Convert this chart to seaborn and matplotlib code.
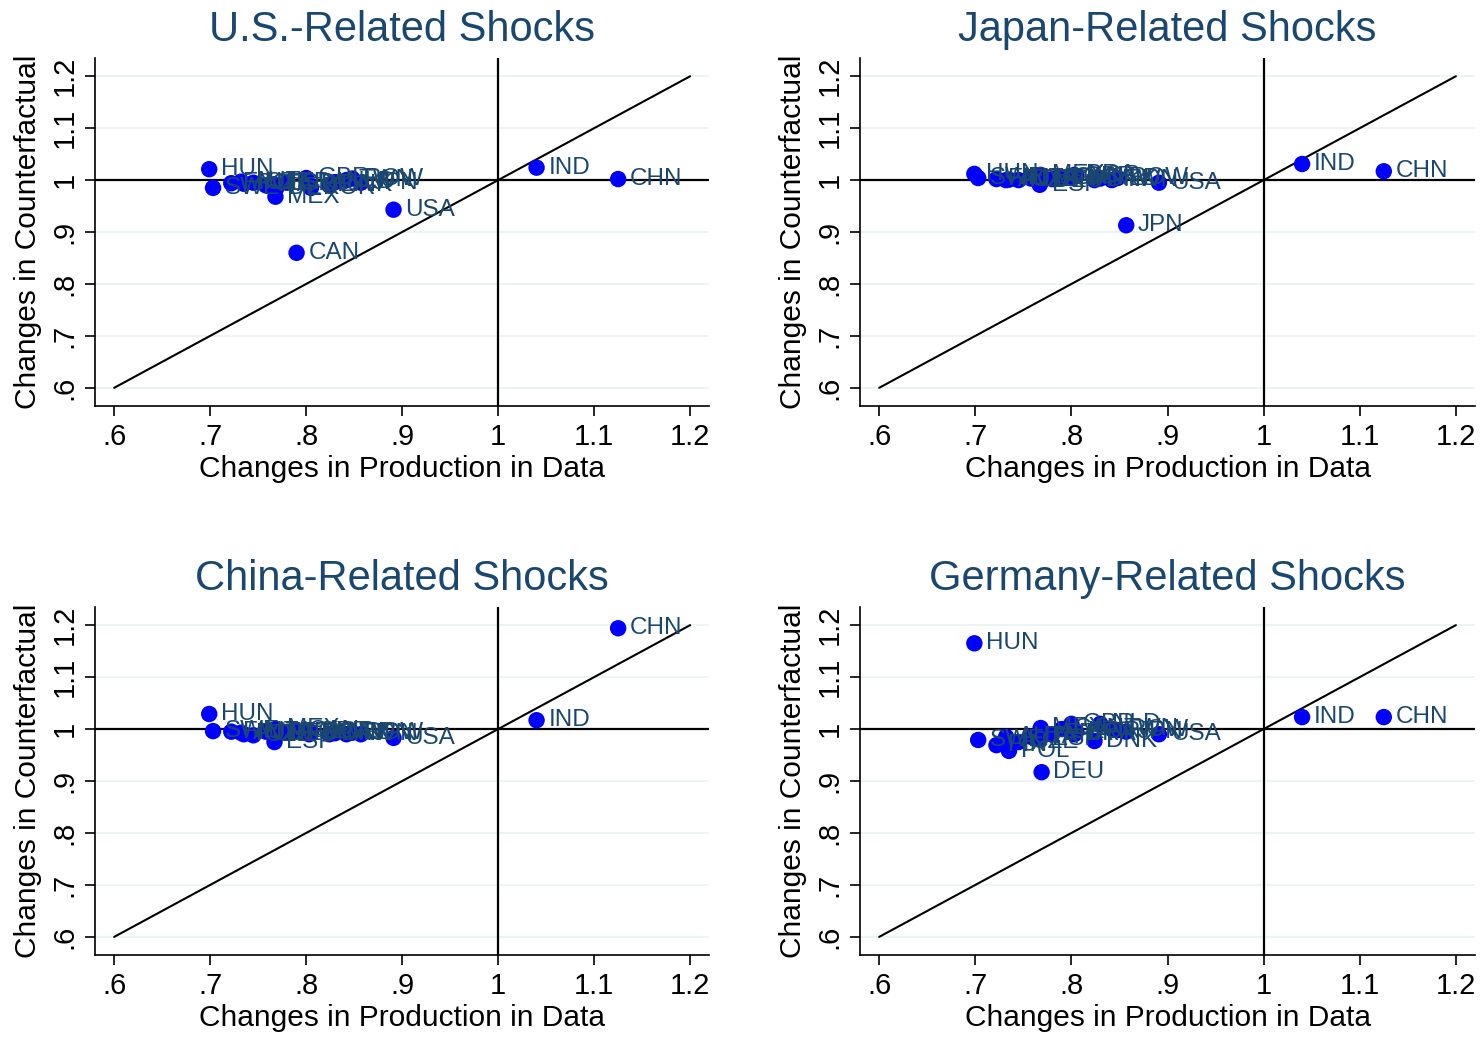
import matplotlib
matplotlib.use("Agg")
import matplotlib.pyplot as plt
import seaborn as sns
import pandas as pd

countries = ["HUN", "SWE", "FIN", "AUT", "POL", "CZE", "ITA", "MEX", "DEU", "ESP",
             "FRA", "CAN", "GBR", "BRA", "KOR", "DNK", "NLD", "TWN", "ROW", "JPN",
             "USA", "IND", "CHN"]

# changes in production observed in the data (shared across panels)
prod_data = [0.699, 0.703, 0.722, 0.732, 0.735, 0.745, 0.758, 0.768, 0.769, 0.767,
             0.780, 0.790, 0.800, 0.803, 0.805, 0.824, 0.830, 0.842, 0.848, 0.857,
             0.891, 1.040, 1.125]

# counterfactual changes under each set of shocks
cf_us = [1.021, 0.985, 0.994, 0.997, 0.993, 0.995, 0.990, 0.968, 0.985, 0.992,
         0.995, 0.860, 1.004, 0.990, 0.985, 0.990, 0.996, 1.000, 1.003, 0.995,
         0.943, 1.024, 1.002]
cf_japan = [1.012, 1.004, 1.002, 1.000, 1.001, 1.000, 1.003, 1.010, 0.998, 0.991,
            1.002, 1.004, 1.006, 1.010, 1.008, 1.000, 1.003, 1.000, 1.004, 0.913,
            0.995, 1.031, 1.017]
cf_china = [1.029, 0.996, 0.995, 0.993, 0.990, 0.988, 0.995, 1.000, 0.990, 0.975,
            0.993, 0.997, 0.995, 0.990, 0.994, 0.990, 0.992, 0.990, 0.993, 0.990,
            0.983, 1.017, 1.194]
cf_germany = [1.165, 0.979, 0.969, 0.985, 0.958, 0.975, 0.985, 1.002, 0.917, 0.980,
              0.990, 1.000, 1.010, 0.990, 0.995, 0.977, 1.010, 1.000, 0.998, 0.995,
              0.990, 1.023, 1.023]

titles = ["U.S.-Related Shocks", "Japan-Related Shocks",
          "China-Related Shocks", "Germany-Related Shocks"]
series = [cf_us, cf_japan, cf_china, cf_germany]

ticks = [0.6, 0.7, 0.8, 0.9, 1.0, 1.1, 1.2]
tick_labels = [".6", ".7", ".8", ".9", "1", "1.1", "1.2"]

sns.set_style("white")
plt.rcParams["font.family"] = ["Liberation Sans", "DejaVu Sans"]
plt.rcParams["text.color"] = "black"
plt.rcParams["axes.labelcolor"] = "black"
plt.rcParams["xtick.color"] = "black"
plt.rcParams["ytick.color"] = "black"

NAVY = "#1a476f"
fig = plt.figure(figsize=(14.84, 10.37), dpi=100)

positions = [
    [0.064, 0.6085, 0.414, 0.3355],
    [0.5795, 0.6085, 0.4145, 0.3355],
    [0.064, 0.079, 0.414, 0.3357],
    [0.5795, 0.079, 0.4145, 0.3357],
]

for pos, title, cf in zip(positions, titles, series):
    ax = fig.add_axes(pos)
    df = pd.DataFrame({"country": countries, "data": prod_data, "cf": cf})

    for t in ticks:
        ax.axhline(t, color="#eaf2f3", lw=1.2, zorder=0)
    ax.plot([0.6, 1.2], [0.6, 1.2], color="black", lw=1.5, zorder=1)
    ax.axhline(1.0, color="black", lw=1.6, zorder=1)
    ax.axvline(1.0, color="black", lw=1.6, zorder=1)

    sns.scatterplot(data=df, x="data", y="cf", ax=ax, color="#0000ff",
                    s=140, edgecolor="none", zorder=3, legend=False)
    for _, r in df.iterrows():
        ax.annotate(r["country"], (r["data"], r["cf"]), xytext=(8.5, 0),
                    textcoords="offset points", va="center", ha="left",
                    fontsize=17.5, color=NAVY, zorder=4)

    ax.set_xlim(0.580, 1.220)
    ax.set_ylim(0.565, 1.235)
    ax.set_xticks(ticks)
    ax.set_xticklabels(tick_labels, fontsize=21)
    ax.set_yticks(ticks)
    ax.set_yticklabels(tick_labels, fontsize=21, rotation=90, va="center")
    ax.tick_params(axis="both", direction="out", length=7, width=1.2,
                   color="black", labelcolor="black", pad=5,
                   left=True, bottom=True)
    ax.set_xlabel("Changes in Production in Data", fontsize=21.5,
                  color="black", labelpad=3)
    ax.set_ylabel("Changes in Counterfactual", fontsize=21.5,
                  color="black", labelpad=6)
    ax.set_title(title, fontsize=30, color=NAVY, pad=12)
    for side in ["top", "right"]:
        ax.spines[side].set_visible(False)
    for side in ["left", "bottom"]:
        ax.spines[side].set_color("black")
        ax.spines[side].set_linewidth(1.2)

fig.savefig("out.png", dpi=100, facecolor="white")
